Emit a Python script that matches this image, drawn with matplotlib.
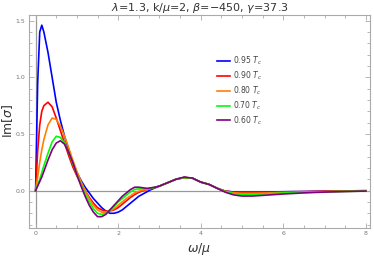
import numpy as np
import matplotlib
matplotlib.use("Agg")
import matplotlib.pyplot as plt
from matplotlib.ticker import MultipleLocator

omega = [0, 0.05, 0.1, 0.15, 0.2, 0.3, 0.4, 0.5, 0.6, 0.7, 0.8, 0.9, 1.0,
         1.1, 1.2, 1.3, 1.4, 1.5, 1.6, 1.7, 1.8, 1.9, 2.0, 2.1, 2.2, 2.3,
         2.4, 2.5, 2.6, 2.7, 2.8, 2.9, 3.0, 3.2, 3.4, 3.6, 3.8, 4.0, 4.2,
         4.4, 4.6, 4.8, 5.0, 5.25, 5.5, 6.0, 6.5, 7.0, 7.5, 8.0]

im_095 = [0, 0.95, 1.40, 1.46, 1.40, 1.22, 1.00, 0.78, 0.62, 0.48, 0.36, 0.25, 0.16,
          0.09, 0.03, -0.02, -0.07, -0.11, -0.15, -0.18, -0.20, -0.20, -0.19, -0.17, -0.14, -0.11,
          -0.08, -0.05, -0.03, -0.01, 0.01, 0.025, 0.04, 0.07, 0.10, 0.115, 0.11, 0.075, 0.055,
          0.02, -0.005, -0.012, -0.014, -0.014, -0.013, -0.01, -0.008, -0.005, -0.003, 0.0]

im_090 = [0, 0.35, 0.58, 0.70, 0.75, 0.78, 0.74, 0.64, 0.53, 0.42, 0.31, 0.21, 0.13,
          0.06, 0.0, -0.06, -0.11, -0.15, -0.17, -0.18, -0.18, -0.17, -0.15, -0.12, -0.09, -0.06,
          -0.035, -0.015, 0.0, 0.01, 0.02, 0.03, 0.04, 0.07, 0.10, 0.115, 0.11, 0.075, 0.055,
          0.02, -0.005, -0.013, -0.015, -0.015, -0.014, -0.011, -0.009, -0.006, -0.004, -0.002]

im_080 = [0, 0.12, 0.25, 0.36, 0.45, 0.58, 0.64, 0.63, 0.57, 0.48, 0.38, 0.27, 0.17,
          0.08, 0.0, -0.07, -0.13, -0.17, -0.19, -0.19, -0.18, -0.16, -0.13, -0.10, -0.07, -0.045,
          -0.02, -0.005, 0.005, 0.012, 0.02, 0.03, 0.04, 0.07, 0.10, 0.115, 0.11, 0.075, 0.055,
          0.02, -0.008, -0.02, -0.024, -0.024, -0.022, -0.017, -0.013, -0.009, -0.006, -0.003]

im_070 = [0, 0.05, 0.10, 0.16, 0.22, 0.33, 0.43, 0.48, 0.47, 0.42, 0.34, 0.24, 0.14,
          0.05, -0.03, -0.10, -0.16, -0.20, -0.21, -0.20, -0.17, -0.14, -0.10, -0.07, -0.04, -0.01,
          0.01, 0.015, 0.015, 0.015, 0.02, 0.03, 0.04, 0.07, 0.10, 0.115, 0.11, 0.075, 0.055,
          0.02, -0.01, -0.028, -0.034, -0.034, -0.03, -0.022, -0.016, -0.011, -0.007, -0.004]

im_060 = [0, 0.04, 0.08, 0.12, 0.17, 0.27, 0.36, 0.42, 0.44, 0.41, 0.34, 0.25, 0.14,
          0.04, -0.05, -0.13, -0.19, -0.23, -0.23, -0.21, -0.17, -0.13, -0.09, -0.05, -0.02, 0.01,
          0.03, 0.03, 0.025, 0.02, 0.025, 0.03, 0.04, 0.07, 0.10, 0.12, 0.11, 0.075, 0.055,
          0.02, -0.015, -0.038, -0.048, -0.048, -0.042, -0.03, -0.02, -0.013, -0.008, -0.004]

labels = [r"0.95 $T_c$", r"0.90 $T_c$", r"0.80 $T_c$", r"0.70 $T_c$", r"0.60 $T_c$"]
colors = ["#0000ff", "#ff0000", "#ff8000", "#00ff00", "#800080"]

fig = plt.figure(figsize=(3.74, 2.56), dpi=100)
ax = fig.add_axes([29 / 374, 28 / 256, 341 / 374, 213 / 256])

for ys, lab, c in zip([im_095, im_090, im_080, im_070, im_060], labels, colors):
    ax.plot(omega, ys, color=c, lw=1.2, label=lab)

ax.axhline(0, color="#999999", lw=0.9, zorder=0)
ax.axvline(0, color="#999999", lw=0.9, zorder=0)

ax.set_xlim(-0.16, 8.1)
ax.set_ylim(-0.33, 1.55)

ax.xaxis.set_major_locator(MultipleLocator(2))
ax.xaxis.set_minor_locator(MultipleLocator(0.5))
ax.yaxis.set_major_locator(MultipleLocator(0.5))
ax.yaxis.set_minor_locator(MultipleLocator(0.1))
ax.yaxis.set_major_formatter(plt.FuncFormatter(lambda v, p: f"{v:.1f}"))

ax.tick_params(which="both", direction="in", top=True, right=True,
               color="#aaaaaa", labelsize=4.5, labelcolor="#777777", width=0.6)
ax.tick_params(which="major", length=3.5, pad=2.5)
ax.tick_params(which="minor", length=2)
for s in ax.spines.values():
    s.set_color("#aaaaaa")
    s.set_linewidth(0.8)

ax.set_xlabel(r"$\omega/\mu$", fontsize=9, color="#333333")
ax.xaxis.set_label_coords(0.5, -0.062)
ax.set_ylabel(r"Im[$\sigma$]", fontsize=9, color="#333333")
ax.yaxis.set_label_coords(-0.04, 0.5)
ax.set_title(r"$\lambda$=1.3, k/$\mu$=2, $\beta$=$-$450, $\gamma$=37.3",
             fontsize=8, color="#333333", pad=3)

ax.legend(loc="upper left", bbox_to_anchor=(0.53, 0.845), frameon=False,
          fontsize=5.5, handlelength=1.7, labelspacing=0.3, handletextpad=0.45,
          labelcolor="#444444")

fig.savefig("out.png", dpi=100)
